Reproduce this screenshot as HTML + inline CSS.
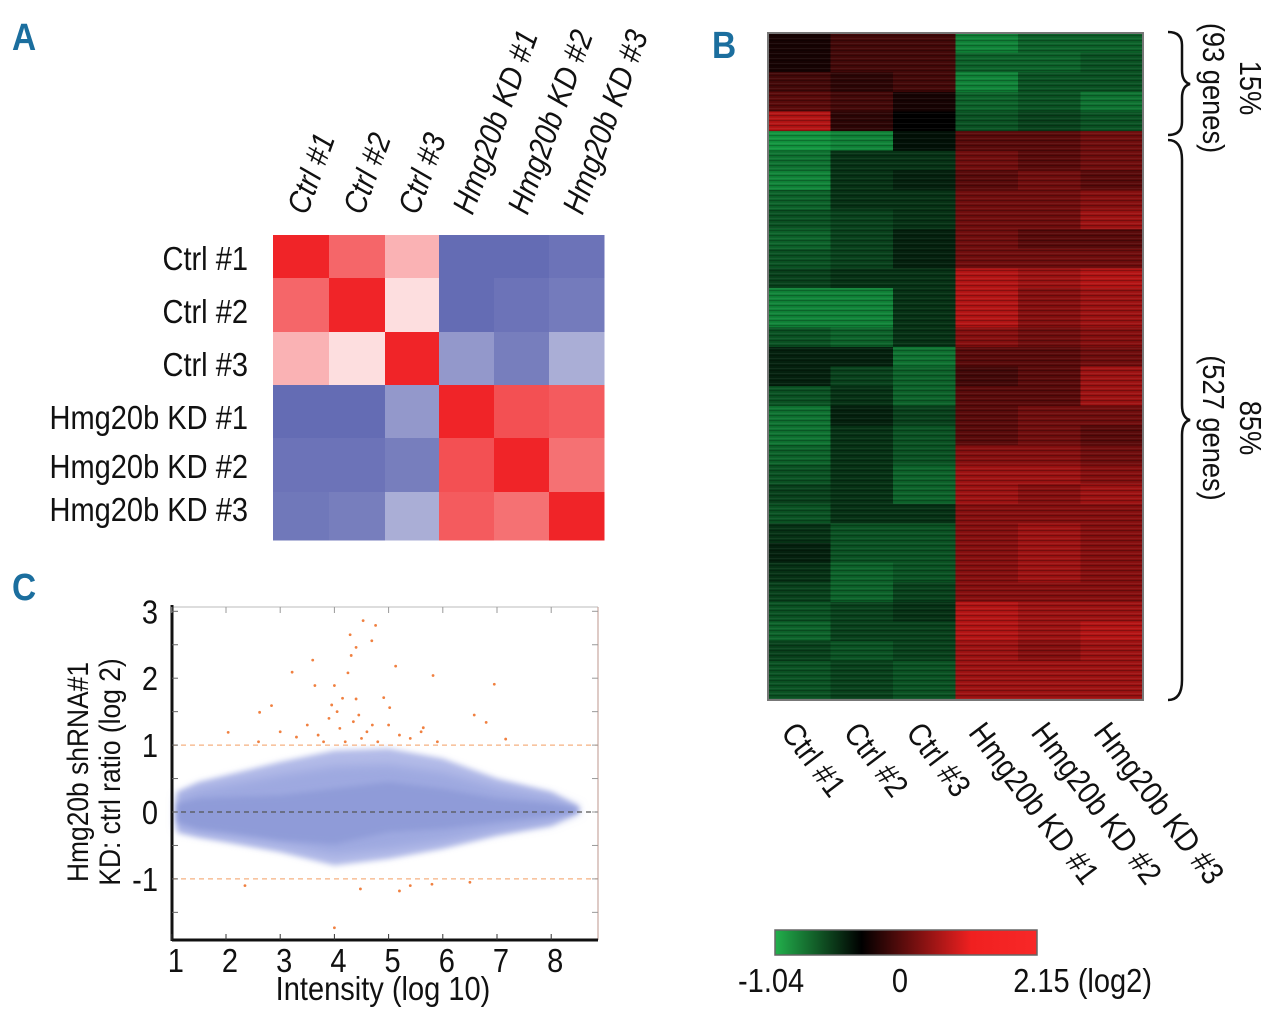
<!DOCTYPE html>
<html><head><meta charset="utf-8"><style>
html,body{margin:0;padding:0;background:#fff;width:1280px;height:1022px;overflow:hidden}
svg{display:block}
text{font-family:"Liberation Sans Narrow","Liberation Sans",sans-serif}
</style></head><body>
<svg id="fig" width="1280" height="1022" viewBox="0 0 1280 1022" xmlns="http://www.w3.org/2000/svg">
<defs>
<filter id="blur3"><feGaussianBlur stdDeviation="3"/></filter>
<filter id="blur6"><feGaussianBlur stdDeviation="5"/></filter>
<linearGradient id="cbar" x1="0" x2="1" y1="0" y2="0">
<stop offset="0" stop-color="#22b04c"/><stop offset="0.33" stop-color="#000"/><stop offset="0.75" stop-color="#f02020"/><stop offset="1" stop-color="#f82828"/>
</linearGradient>
<pattern id="stripes" width="10" height="5" patternUnits="userSpaceOnUse"><rect width="10" height="1.2" fill="#000" opacity="0.25"/><rect y="3" width="10" height="0.8" fill="#fff" opacity="0.07"/></pattern>
</defs>
<g id="labels"></g>
<g id="panelA"></g>
<g id="panelB"></g>
<g id="panelC"></g>
</svg>
<script>
// ---------- Panel A data ----------
const samples = ["Ctrl #1","Ctrl #2","Ctrl #3","Hmg20b KD #1","Hmg20b KD #2","Hmg20b KD #3"];
const corr = [
 [1.0, 0.7, 0.35,-1.0,-1.0,-0.95],
 [0.7, 1.0, 0.15,-1.0,-0.95,-0.9],
 [0.35,0.15,1.0,-0.7,-0.88,-0.55],
 [-1.0,-1.0,-0.7,1.0,0.8,0.75],
 [-0.95,-0.95,-0.88,0.8,1.0,0.65],
 [-0.92,-0.88,-0.55,0.75,0.65,1.0]
];
// ---------- Panel B data (bands of genes, log2 ratio scaled) ----------
const heatRows = [
 [0.1,0.3,0.3,-0.8,-0.6,-0.6],[0.1,0.3,0.3,-0.6,-0.6,-0.5],[0.3,0.2,0.3,-0.8,-0.5,-0.5],
 [0.4,0.3,0.1,-0.6,-0.5,-0.7],[0.8,0.2,0.0,-0.5,-0.4,-0.5],[-0.9,-0.8,-0.1,0.4,0.4,0.5],
 [-0.7,-0.3,-0.3,0.5,0.4,0.5],[-0.8,-0.3,-0.2,0.4,0.5,0.4],[-0.6,-0.3,-0.3,0.5,0.5,0.6],
 [-0.5,-0.4,-0.3,0.5,0.5,0.7],[-0.6,-0.4,-0.2,0.5,0.4,0.4],[-0.5,-0.4,-0.2,0.5,0.5,0.5],
 [-0.4,-0.3,-0.3,0.8,0.7,0.8],[-0.8,-0.8,-0.3,0.8,0.6,0.7],[-0.8,-0.8,-0.3,0.8,0.6,0.7],
 [-0.5,-0.6,-0.3,0.6,0.5,0.6],[-0.2,-0.2,-0.7,0.4,0.4,0.5],[-0.2,-0.4,-0.6,0.3,0.4,0.7],
 [-0.5,-0.3,-0.6,0.4,0.4,0.7],[-0.7,-0.2,-0.4,0.4,0.5,0.5],[-0.7,-0.3,-0.5,0.4,0.5,0.4],
 [-0.6,-0.3,-0.5,0.6,0.6,0.5],[-0.5,-0.3,-0.6,0.7,0.7,0.6],[-0.4,-0.3,-0.6,0.7,0.6,0.7],
 [-0.5,-0.3,-0.3,0.6,0.6,0.6],[-0.3,-0.5,-0.5,0.6,0.7,0.6],[-0.2,-0.5,-0.5,0.6,0.7,0.6],
 [-0.3,-0.6,-0.5,0.6,0.7,0.6],[-0.4,-0.6,-0.4,0.6,0.6,0.6],[-0.5,-0.4,-0.3,0.8,0.7,0.7],
 [-0.6,-0.4,-0.4,0.8,0.7,0.8],[-0.4,-0.5,-0.4,0.7,0.6,0.7],[-0.5,-0.4,-0.5,0.7,0.7,0.7],
 [-0.5,-0.4,-0.5,0.7,0.7,0.7]
];
const cbarTicks = ["-1.04","0","2.15 (log2)"];
// ---------- Panel C data ----------
const xTicks = [1,2,3,4,5,6,7,8];
const yTicks = [3,2,1,0,-1];
const cloudX =     [1.1, 1.5, 2,   3,    4,    5,    6,    7,    8,    8.5];
const cloudUpper = [0.3, 0.45,0.55,0.75, 0.92, 0.95, 0.8,  0.5,  0.3,  0.08];
const cloudLower = [-0.3,-0.38,-0.45,-0.6,-0.8,-0.7, -0.55,-0.35,-0.2, 0.0];
const coreUpper =  [0.12,0.2, 0.22,0.25, 0.35, 0.45, 0.35, 0.2,  0.12, 0.05];
const coreLower =  [-0.15,-0.25,-0.3,-0.42,-0.48,-0.3,-0.25,-0.15,-0.05,0.0];
const outX = [4.53,4.76,4.29,4.69,4.40,4.31,3.60,5.13,3.22,4.25,5.82,6.95,4.0,3.64,4.4,4.91,2.84,5.02,2.62,6.58,6.8,2.04,7.16,5.64,
 3.5,3.7,3.9,4.1,4.2,4.35,4.5,4.6,4.8,5.0,5.2,5.4,5.6,3.8,4.05,4.45,3.3,3.0,2.6,5.9,4.7,3.95,4.15,
 2.35,4.48,5.2,5.4,6.5,5.8,4.0];
const outY = [2.86,2.79,2.65,2.56,2.46,2.34,2.27,2.18,2.09,2.08,2.04,1.91,1.89,1.89,1.69,1.71,1.59,1.56,1.49,1.45,1.34,1.19,1.09,1.26,
 1.3,1.15,1.4,1.25,1.05,1.35,1.1,1.2,1.05,1.3,1.15,1.1,1.2,1.05,1.5,1.45,1.12,1.2,1.05,1.05,1.3,1.6,1.7,
 -1.1,-1.15,-1.18,-1.1,-1.05,-1.08,-1.73];

const NS="http://www.w3.org/2000/svg";
function mk(tag, attrs, parent){const e=document.createElementNS(NS,tag);for(const k in attrs)e.setAttribute(k,attrs[k]);parent.appendChild(e);return e;}
function txt(parent,x,y,str,size,anchor,rot,extra){
  const a={x:0,y:0,'font-size':size,fill:'#111','text-anchor':anchor||'start',
    transform:`translate(${x},${y}) rotate(${rot||0}) scale(0.88,1)`};
  if(extra)for(const k in extra)a[k]=extra[k];
  const t=mk('text',a,parent);t.textContent=str;return t;
}

const LB=document.getElementById('labels');
[["A",12,50],["B",712,58],["C",12,600]].forEach(p=>{
  const t=txt(LB,p[1],p[2],p[0],38,'start',0,{'font-weight':'bold',fill:'#1b6e9e'});
  
  
});

// ---------- Panel A ----------
const A=document.getElementById('panelA');
const colB=[273,329,385,439,494,549,604];
const rowB=[235,278,332,385,438,492,540];
function corrColor(v){
  const w=[255,255,255], r=[240,36,40], b=[100,108,180];
  const t=Math.min(1,Math.abs(v)), c=v>=0?r:b;
  return `rgb(${w.map((x,i)=>Math.round(x+(c[i]-x)*t)).join(',')})`;
}
for(let i=0;i<6;i++)for(let j=0;j<6;j++){
  const c=mk('rect',{x:colB[j],y:rowB[i],width:colB[j+1]-colB[j]+0.5,height:rowB[i+1]-rowB[i]+0.5,fill:corrColor(corr[i][j])},A);
  
  
}
const rowLabY=[259,312,365,418,467,510];
for(let i=0;i<6;i++){
  const t=txt(A,248,rowLabY[i]+11,samples[i],33,'end');
  
  
  const cx=(colB[i]+colB[i+1])/2+6;
  const t2=txt(A,cx,216,samples[i],32,'start',-70,{'font-style':'italic'});
  
  
}

// ---------- Panel B ----------
const B=document.getElementById('panelB');
const hx0=768,hx1=1143,hy0=33,hy1=700;
const cw=(hx1-hx0)/6, rh=(hy1-hy0)/heatRows.length;
function heatColor(v){
  if(v<0){const t=Math.min(1,-v);return `rgb(${Math.round(20*t)},${Math.round(165*t)},${Math.round(70*t)})`;}
  const t=Math.min(1,v);return `rgb(${Math.round(225*t)},${Math.round(25*t)},${Math.round(25*t)})`;
}
heatRows.forEach((row,i)=>row.forEach((v,j)=>{
  const r=mk('rect',{x:hx0+j*cw,y:hy0+i*rh,width:cw+0.5,height:rh+0.5,fill:heatColor(v)},B);
  
  
}));
mk('rect',{x:hx0,y:hy0,width:hx1-hx0,height:hy1-hy0,fill:'url(#stripes)'},B);
mk('rect',{x:hx0,y:hy0,width:hx1-hx0,height:hy1-hy0,fill:'none',stroke:'#777','stroke-width':2},B);
for(let j=0;j<6;j++){
  const t=txt(B,hx0+j*cw+12,733,samples[j],32,'start',53);
  
  
}
const br1=mk('path',{d:'M1168,32 Q1182,32 1182,45 L1182,70 Q1182,82 1190,84 Q1182,86 1182,98 L1182,122 Q1182,135 1168,135',fill:'none',stroke:'#111','stroke-width':2.5},B);

const br2=mk('path',{d:'M1168,140 Q1182,140 1182,160 L1182,405 Q1182,418 1190,420 Q1182,422 1182,435 L1182,680 Q1182,700 1168,700',fill:'none',stroke:'#111','stroke-width':2.5},B);

[["15%",1240,88],["(93 genes)",1203,88],["85%",1240,428],["(527 genes)",1203,428]].forEach(a=>{
  const t=txt(B,a[1],a[2],a[0],31,'middle',90);
  
  
});
const cb=mk('rect',{x:775,y:930,width:262,height:25,fill:'url(#cbar)',stroke:'#666','stroke-width':1.5},B);

[[738,'start'],[900,'middle'],[1152,'end']].forEach((p,i)=>{
  const t=txt(B,p[0],992,cbarTicks[i],33,p[1]);
  
  
});

// ---------- Panel C ----------
const C=document.getElementById('panelC');
const X=v=>226+54.2*(v-2), Y=v=>812-66.9*v;
const L=172,R=598,T=607,Bt=940;
function poly(up,lo,fill,filt,name){
  let pts=cloudX.map((x,i)=>X(x)+','+Y(up[i]));
  for(let i=cloudX.length-1;i>=0;i--)pts.push(X(cloudX[i])+','+Y(lo[i]));
  const p=mk('polygon',{points:pts.join(' '),fill:fill,filter:filt},C);
  
  
}
poly(cloudUpper,cloudLower,'#b3bbe8','url(#blur3)','point-cloud-outer');
poly(cloudUpper.map(v=>v*0.75),cloudLower.map(v=>v*0.8),'#9ea9e0','url(#blur6)','point-cloud-mid');
poly(coreUpper,coreLower,'#8f9bd8','url(#blur3)','point-cloud-core');
mk('line',{x1:L,x2:R,y1:Y(0),y2:Y(0),stroke:'#555','stroke-width':1.3,'stroke-dasharray':'5,4'},C);
[1,-1].forEach(v=>mk('line',{x1:L,x2:R,y1:Y(v),y2:Y(v),stroke:'#f5b080','stroke-width':1.3,'stroke-dasharray':'5,4'},C));
outX.forEach((x,i)=>{
  const c=mk('circle',{cx:X(x),cy:Y(outY[i]),r:1.4,fill:'#f08040'},C);
  
  
});
mk('line',{x1:L,x2:R,y1:T,y2:T,stroke:'#bbb','stroke-width':1},C);
mk('line',{x1:R,x2:R,y1:T,y2:Bt,stroke:'#c8a8a0','stroke-width':1.2},C);
mk('line',{x1:L,x2:L,y1:T-2,y2:Bt+1,stroke:'#111','stroke-width':3},C);
mk('line',{x1:L,x2:R,y1:Bt,y2:Bt,stroke:'#111','stroke-width':3},C);
for(let v=-1.5;v<=3.01;v+=0.5){
  mk('line',{x1:L,x2:L+6,y1:Y(v),y2:Y(v),stroke:'#666'},C);
  mk('line',{x1:R-6,x2:R,y1:Y(v),y2:Y(v),stroke:'#999'},C);
}
xTicks.forEach(v=>{
  mk('line',{x1:X(v),x2:X(v),y1:Bt-6,y2:Bt,stroke:'#333'},C);
  mk('line',{x1:X(v),x2:X(v),y1:T,y2:T+6,stroke:'#999'},C);
  const t=txt(C,X(v)+4,972,String(v),33,'middle');
  
  
});
yTicks.forEach(v=>{
  const t=txt(C,158,Y(v)+12,String(v),33,'end');
  
  
});
const xt=txt(C,383,1000,'Intensity (log 10)',33,'middle');

[["Hmg20b shRNA#1",88],["KD: ctrl ratio (log 2)",120]].forEach(a=>{
  const t=txt(C,a[1],772,a[0],30,'middle',-90);
  
  
});
</script>
</body></html>
